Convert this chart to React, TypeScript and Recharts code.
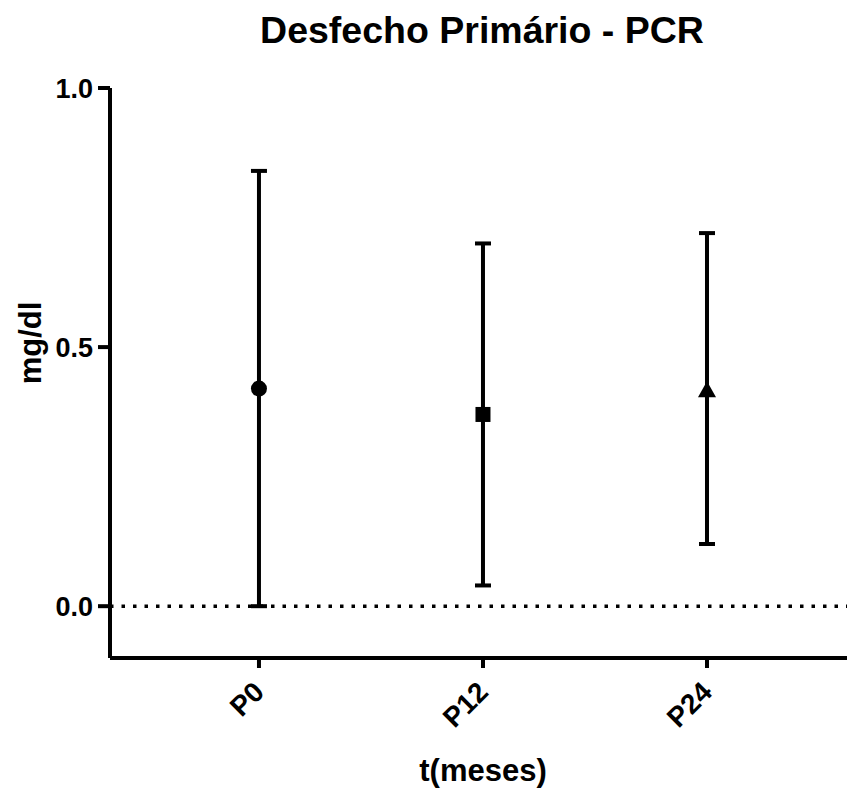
import { ComposedChart, Scatter, ErrorBar, XAxis, YAxis, ReferenceLine } from "recharts";

const categories = ["P0", "P12", "P24"];
const means = [0.42, 0.37, 0.415];
const lower = [0, 0.04, 0.12];
const upper = [0.84, 0.7, 0.72];
const yTicks = [0, 0.5, 1.0];

const FONT = "'Liberation Sans', Arial, sans-serif";

const rows = categories.map((c, i) => ({
  x: i,
  y: means[i],
  err: [means[i] - lower[i], upper[i] - means[i]],
}));

const Dot = (p: any) => <circle cx={p.cx} cy={p.cy} r={8} fill="#000" />;
const Square = (p: any) => (
  <rect x={p.cx - 7.5} y={p.cy - 7.5} width={15} height={15} fill="#000" />
);
const Tri = (p: any) => (
  <polygon
    points={`${p.cx},${p.cy - 10} ${p.cx + 9},${p.cy + 6} ${p.cx - 9},${p.cy + 6}`}
    fill="#000"
  />
);
const shapes = [Dot, Square, Tri];

const XTick = ({ x, y, payload }: any) => (
  <text
    x={x}
    y={y + 17}
    transform={`rotate(-45 ${x} ${y + 17})`}
    textAnchor="end"
    dominantBaseline="central"
    fontFamily={FONT}
    fontWeight="bold"
    fontSize={28}
    fill="#000"
  >
    {categories[payload.value]}
  </text>
);

export default function App() {
  return (
    <div
      style={{
        position: "absolute",
        left: 0,
        top: 0,
        width: 847,
        height: 792,
        background: "#fff",
        fontFamily: FONT,
      }}
    >
      <div
        style={{
          position: "absolute",
          left: 0,
          width: 964,
          top: 9,
          textAlign: "center",
          fontSize: 37.5,
          fontWeight: "bold",
        }}
      >
        Desfecho Primário - PCR
      </div>
      <div
        style={{
          position: "absolute",
          left: 31,
          top: 343,
          transform: "translate(-50%, -50%) rotate(-90deg)",
          fontSize: 31,
          fontWeight: "bold",
          whiteSpace: "nowrap",
        }}
      >
        mg/dl
      </div>
      <div
        style={{
          position: "absolute",
          left: 0,
          width: 966,
          top: 753,
          textAlign: "center",
          fontSize: 31,
          fontWeight: "bold",
        }}
      >
        t(meses)
      </div>
      <ComposedChart
        width={847}
        height={792}
        margin={{ top: 88, right: 0, bottom: 74, left: 30 }}
      >
        <XAxis
          type="number"
          dataKey="x"
          domain={[-0.665, 2.625]}
          ticks={[0, 1, 2]}
          allowDataOverflow
          height={60}
          tick={<XTick />}
          tickSize={10}
          axisLine={{ stroke: "#000", strokeWidth: 4 }}
          tickLine={{ stroke: "#000", strokeWidth: 4 }}
        />
        <YAxis
          type="number"
          dataKey="y"
          domain={[-0.1, 1]}
          ticks={yTicks}
          allowDataOverflow
          width={80}
          tickSize={12}
          tickMargin={5}
          tickFormatter={(v: number) => v.toFixed(1)}
          tick={{ fill: "#000", fontSize: 27, fontWeight: "bold", fontFamily: FONT }}
          axisLine={{ stroke: "#000", strokeWidth: 4 }}
          tickLine={{ stroke: "#000", strokeWidth: 4 }}
        />
        <ReferenceLine y={0} stroke="#000" strokeWidth={3.5} strokeDasharray="3.5 8" />
        {rows.map((r, i) => (
          <Scatter
            key={categories[i]}
            data={[r]}
            dataKey="y"
            shape={shapes[i]}
            isAnimationActive={false}
          >
            <ErrorBar
              dataKey="err"
              direction="y"
              width={8}
              stroke="#000"
              strokeWidth={4}
              isAnimationActive={false}
            />
          </Scatter>
        ))}
      </ComposedChart>
    </div>
  );
}
